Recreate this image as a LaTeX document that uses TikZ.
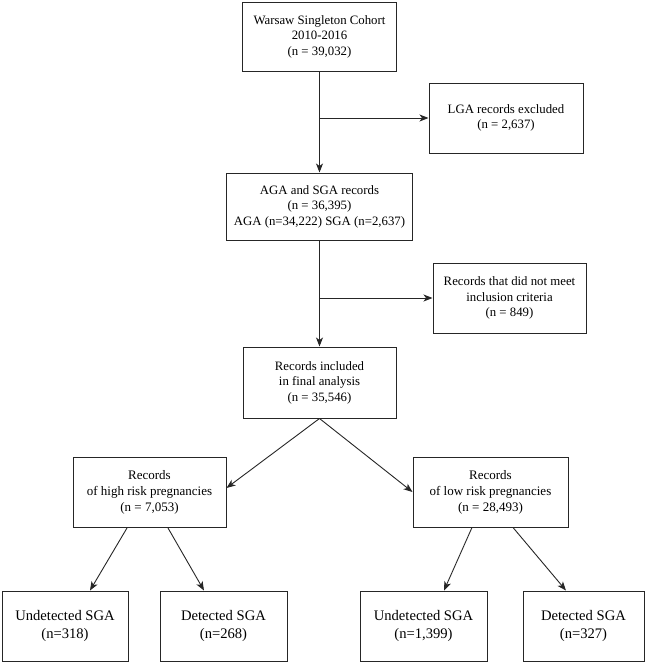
\documentclass[tikz,border=0pt]{standalone}
\usepackage{fontspec}
\setmainfont{Liberation Serif}
\usetikzlibrary{arrows.meta,calc}
\begin{document}
\begin{tikzpicture}[x=1pt,y=-1pt,
  box/.style={draw=black!85, line width=1pt, align=center, inner sep=0pt, font=\fontsize{12.8}{15.5}\selectfont},
  midbox/.style={box, font=\fontsize{13}{16}\selectfont},
  leaf/.style={box, font=\fontsize{14.6}{18}\selectfont},
  arr/.style={draw=black!85, line width=0.9pt, -{Stealth[length=9pt,width=7pt,inset=2.5pt]}},
  ln/.style={draw=black!85, line width=0.9pt}]
\useasboundingbox (0,0) rectangle (646,662);
\node[box, minimum width=154pt, minimum height=69pt] (w) at (319.5,36.5) {Warsaw Singleton Cohort\\2010-2016\\(n = 39,032)};
\node[box, minimum width=154pt, minimum height=70pt] (lga) at (506,118) {LGA records excluded\\(n = 2,637)};
\node[box, minimum width=186pt, minimum height=67pt] (aga) at (319.5,206.5) {AGA and SGA records\\(n = 36,395)\\AGA (n=34,222) SGA (n=2,637)};
\node[box, minimum width=153pt, minimum height=70pt] (nm) at (509.5,298) {Records that did not meet\\inclusion criteria\\(n = 849)};
\node[box, minimum width=153pt, minimum height=71pt] (inc) at (319.5,382.5) {Records included\\in final analysis\\(n = 35,546)};
\node[midbox, minimum width=153pt, minimum height=70pt] (hi) at (149.5,492.5) {Records\\of high risk pregnancies\\(n = 7,053)};
\node[midbox, minimum width=155pt, minimum height=70pt] (lo) at (490.5,492) {Records\\of low risk pregnancies\\(n = 28,493)};
\node[leaf, minimum width=126pt, minimum height=70pt] (b1) at (65,626) {Undetected SGA\\(n=318)};
\node[leaf, minimum width=127pt, minimum height=70pt] (b2) at (223.5,626) {Detected SGA\\(n=268)};
\node[leaf, minimum width=127pt, minimum height=70pt] (b3) at (423.5,626) {Undetected SGA\\(n=1,399)};
\node[leaf, minimum width=121pt, minimum height=70pt] (b4) at (583.5,626) {Detected SGA\\(n=327)};
% main spine
\coordinate (j1) at (w.south |- lga.west);
\coordinate (j2) at (aga.south |- nm.west);
\draw[arr] (w.south) -- (aga.north);
\draw[arr] (j1) -- (lga.west);
\draw[arr] (aga.south) -- (inc.north);
\draw[arr] (j2) -- (nm.west);
% split
\draw[arr] (inc.south) -- ($(hi.east)+(0,-4.5)$);
\draw[arr] (inc.south) -- (lo.west);
% leaves
\draw[arr] ($(hi.south)+(-22.5,0)$) -- ($(b1.north)+(25,0)$);
\draw[arr] ($(hi.south)+(18.5,0)$) -- ($(b2.north)+(-19.5,0)$);
\draw[arr] ($(lo.south)+(-18.5,0)$) -- ($(b3.north)+(20.5,0)$);
\draw[arr] ($(lo.south)+(22.5,0)$) -- ($(b4.north)+(-17.5,0)$);
\end{tikzpicture}
\end{document}
